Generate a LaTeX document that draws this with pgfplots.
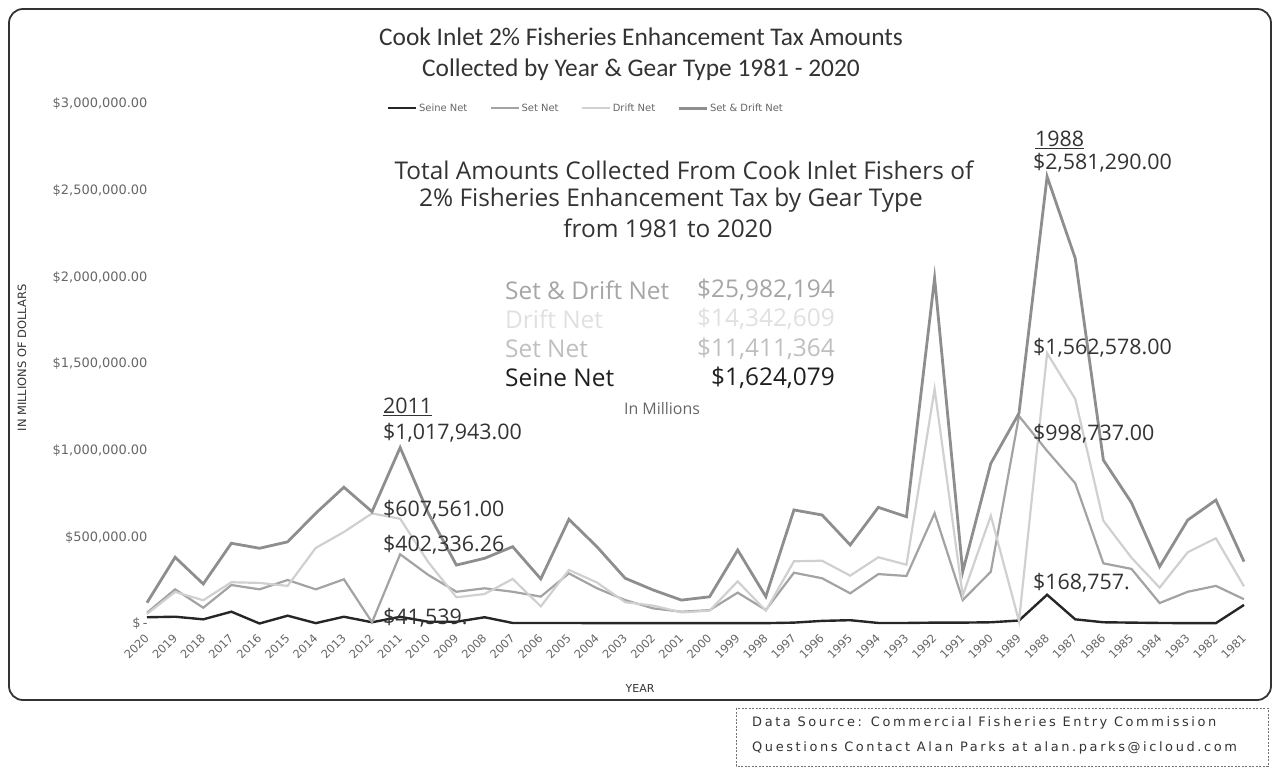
\documentclass[border=0pt]{standalone}
\usepackage{fontspec}
\setmainfont{Carlito}
\newfontfamily\annfont{Open Sans}
\newfontfamily\tickfont{DejaVu Sans}
\newfontfamily\srcfont[LetterSpace=20]{DejaVu Sans}
\usepackage{pgfplots}
\pgfplotsset{compat=1.18}
\usepackage{pgfplotstable}

\definecolor{seinecol}{HTML}{262626}
\definecolor{setcol}{HTML}{A3A3A3}
\definecolor{driftcol}{HTML}{D0D0D0}
\definecolor{setdriftcol}{HTML}{8E8E8E}
\definecolor{txtdark}{HTML}{333333}
\definecolor{txtmid}{HTML}{666666}

% Tax collected per year (dollars); idx 0 = 2020 ... idx 39 = 1981
\pgfplotstableread{
idx year seine set drift total
0  2020 39000  65000   58000   123000
1  2019 42000  200000  185000  385000
2  2018 27000  94000   137000  231000
3  2017 71000  225000  241000  466000
4  2016 3000   200000  237000  437000
5  2015 48000  254000  220000  474000
6  2014 5000   200000  439000  639000
7  2013 42000  258000  531000  789000
8  2012 10000  10000   638000  648000
9  2011 41539  402336.26 607561 1017943
10 2010 13000  283000  357000  640000
11 2009 13000  186000  154000  340000
12 2008 39000  206000  173000  379000
13 2007 6000   186000  260000  446000
14 2006 6000   158000  102000  260000
15 2005 6000   292000  312000  604000
16 2004 5000   206000  239000  445000
17 2003 5000   138000  126000  264000
18 2002 5000   90000   106000  196000
19 2001 5000   71000   67000   138000
20 2000 5000   80000   77000   157000
21 1999 5000   181000  246000  427000
22 1998 5000   81000   77000   158000
23 1997 8000   296000  362000  658000
24 1996 18000  264000  365000  629000
25 1995 22000  177000  279000  456000
26 1994 6000   288000  385000  673000
27 1993 6000   277000  342000  619000
28 1992 8000   639000  1356000 1995000
29 1991 8000   138000  164000  302000
30 1990 10000  302000  625000  927000
31 1989 20000  1200000 16000   1216000
32 1988 168757 998737  1562578 2581290
33 1987 27000  812000  1298000 2110000
34 1986 10000  350000  596000  946000
35 1985 8000   318000  382000  700000
36 1984 6000   121000  210000  331000
37 1983 5000   186000  414000  600000
38 1982 5000   220000  495000  715000
39 1981 110000 143000  217000  360000
}\taxdata

\begin{document}
\begin{tikzpicture}[x=1bp,y=1bp]
% page frame
\path (0,0) rectangle (1278,-770);
\draw[line width=1.8bp, color=black!80, rounded corners=14bp] (9,-9) rectangle (1271,-700);

\begin{axis}[
  at={(147bp,-624bp)}, anchor=south west,
  scale only axis, width=1097bp, height=520bp,
  xmin=0, xmax=39, ymin=0, ymax=3000000,
  clip=false,
  axis line style={draw=none},
  tick style={draw=none},
  xtick={0,...,39},
  xticklabels={2020,2019,2018,2017,2016,2015,2014,2013,2012,2011,2010,2009,2008,2007,2006,2005,2004,2003,2002,2001,2000,1999,1998,1997,1996,1995,1994,1993,1992,1991,1990,1989,1988,1987,1986,1985,1984,1983,1982,1981},
  xticklabel style={yshift=-12bp, rotate=45, anchor=east, inner sep=0pt,
    font=\tickfont\fontsize{11.5}{12}\selectfont, text=txtmid},
  ytick={0,500000,1000000,1500000,2000000,2500000,3000000},
  yticklabels={{\$\,-\hspace{10bp}},{\$500,000.00},{\$1,000,000.00},{\$1,500,000.00},{\$2,000,000.00},{\$2,500,000.00},{\$3,000,000.00}},
  yticklabel style={font=\tickfont\fontsize{13}{14}\selectfont, text=txtmid, xshift=4bp},
  scaled y ticks=false,
  legend columns=4,
  legend style={at={(0.4,0.992)}, anchor=center, draw=none, fill=none,
    font=\tickfont\fontsize{10}{11}\selectfont, text=txtmid,
    /tikz/every even column/.append style={column sep=20bp}},
  legend image code/.code={\draw[#1] (0bp,0bp) -- (28bp,0bp);},
]
\addplot[seinecol, line width=2.4bp] table[x=idx, y=seine] {\taxdata};
\addlegendentry{Seine Net}
\addplot[setcol, line width=2.2bp] table[x=idx, y=set] {\taxdata};
\addlegendentry{Set Net}
\addplot[driftcol, line width=2.2bp] table[x=idx, y=drift] {\taxdata};
\addlegendentry{Drift Net}
\addplot[setdriftcol, line width=2.8bp] table[x=idx, y=total] {\taxdata};
\addlegendentry{Set \& Drift Net}
\end{axis}

% axis titles
\node[rotate=90, font=\tickfont\fontsize{11.5}{12}\selectfont, text=txtdark] at (22,-358) {IN MILLIONS OF DOLLARS};
\node[font=\tickfont\fontsize{11}{12}\selectfont, text=txtdark] at (640,-688) {YEAR};

% chart title
\node[font=\fontsize{25.5}{28}\selectfont, text=txtdark] at (641,-37) {Cook Inlet 2\% Fisheries Enhancement Tax Amounts};
\node[font=\fontsize{25.5}{28}\selectfont, text=txtdark] at (641,-70) {Collected by Year \& Gear Type 1981 - 2020};

% summary block
\begin{scope}[every node/.style={font=\annfont\fontsize{24.5}{28}\selectfont, inner sep=0pt}]
\node[text=txtdark] at (684,-170) {Total Amounts Collected From Cook Inlet Fishers of};
\node[text=txtdark] at (671,-200) {2\% Fisheries Enhancement Tax by Gear Type};
\node[text=txtdark] at (668,-228) {from 1981 to 2020};
\node[anchor=west, text=black!35] at (505,-290) {Set \& Drift Net};
\node[anchor=east, text=black!35] at (835,-290) {\$25,982,194};
\node[anchor=west, text=black!12] at (505,-319) {Drift Net};
\node[anchor=east, text=black!12] at (835,-319) {\$14,342,609};
\node[anchor=west, text=black!25] at (505,-349) {Set Net};
\node[anchor=east, text=black!25] at (835,-349) {\$11,411,364};
\node[anchor=west, text=black!88] at (505,-378) {Seine Net};
\node[anchor=east, text=black!88] at (835,-378) {\$1,624,079};
\end{scope}
\node[font=\annfont\fontsize{16}{17}\selectfont, text=txtmid] at (662,-409) {In Millions};

% point call-outs
\begin{scope}[every node/.style={anchor=west, inner sep=0pt, text=txtdark, font=\annfont\fontsize{21.5}{24}\selectfont}]
\node at (383,-407) {\underline{2011}};
\node at (383,-433) {\$1,017,943.00};
\node at (383,-510) {\$607,561.00};
\node at (383,-545) {\$402,336.26};
\node at (383,-618) {\$41,539.};
\node at (1035,-140) {\underline{1988}};
\node at (1033,-163) {\$2,581,290.00};
\node at (1033,-348) {\$1,562,578.00};
\node at (1033,-434) {\$998,737.00};
\node at (1033,-583) {\$168,757.};
\end{scope}

% source box
\draw[black!55, line width=0.8bp, dash pattern=on 2bp off 1.5bp] (736,-708) rectangle (1268,-766);
\node[anchor=west, inner sep=0pt, font=\srcfont\fontsize{13}{15}\selectfont, text=txtdark] at (752,-723) {Data Source: Commercial Fisheries Entry Commission};
\node[anchor=west, inner sep=0pt, font=\srcfont\fontsize{13}{15}\selectfont, text=txtdark] at (752,-748) {Questions Contact Alan Parks at alan.parks@icloud.com};
\end{tikzpicture}
\end{document}
